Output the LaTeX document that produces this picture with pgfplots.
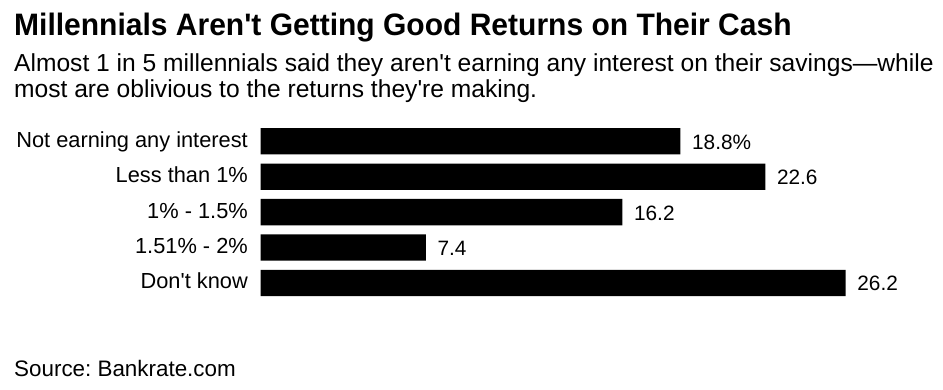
\documentclass[border=0pt]{standalone}
\usepackage{pgfplots}
\pgfplotsset{compat=1.18}
\usepackage{pgfplotstable}
\usepackage{fontspec}
\setmainfont{Liberation Sans}
\frenchspacing
\pgfplotstableread{
y x label
0 18.8 18.8\%
1 22.6 22.6
2 16.2 16.2
3 7.4 7.4
4 26.2 26.2
}\datatable
\begin{document}
\frenchspacing
\begin{tikzpicture}
\path[fill=white,use as bounding box] (0,0) rectangle (943pt,-389pt);
\node[anchor=base west,inner sep=0pt,xscale=0.968,font=\bfseries\fontsize{31}{36}\selectfont] at (14pt,-35pt) {Millennials Aren\textquotesingle t Getting Good Returns on Their Cash};
\node[anchor=base west,inner sep=0pt,font=\fontsize{24.6}{28}\selectfont] at (14pt,-71pt) {Almost 1 in 5 millennials said they aren\textquotesingle t earning any interest on their savings—while};
\node[anchor=base west,inner sep=0pt,font=\fontsize{24.6}{28}\selectfont] at (14pt,-97.7pt) {most are oblivious to the returns they\textquotesingle re making.};
\node[anchor=base west,inner sep=0pt,font=\fontsize{22.4}{26}\selectfont] at (14pt,-376.7pt) {Source: Bankrate.com};
\begin{axis}[
  at={(260.7pt,-123.6pt)}, anchor=north west,
  scale only axis, width=585pt, height=177pt,
  xmin=0, xmax=26.2, ymin=-0.5, ymax=4.5, y dir=reverse,
  xbar, bar width=26.3pt, bar shift=0pt,
  axis line style={draw=none},
  xtick=\empty, ytick={0,1,2,3,4},
  yticklabels={Not earning any interest, Less than 1\%, 1\% - 1.5\%, 1.51\% - 2\%, Don\textquotesingle t know},
  major tick length=0pt,
  clip=false,
  nodes near coords={\pgfplotspointmeta},
  point meta=explicit symbolic,
  nodes near coords style={font=\fontsize{20.8}{24}\selectfont, anchor=base west, inner sep=0pt, xshift=11.5pt, yshift=-8pt},
  yticklabel style={font=\fontsize{21.8}{26}\selectfont, anchor=base east, inner sep=0pt, xshift=-12.7pt, yshift=-6pt},
]
\addplot[fill=black, draw=none] table[x=x, y=y, meta=label] {\datatable};
\end{axis}
\end{tikzpicture}
\end{document}
